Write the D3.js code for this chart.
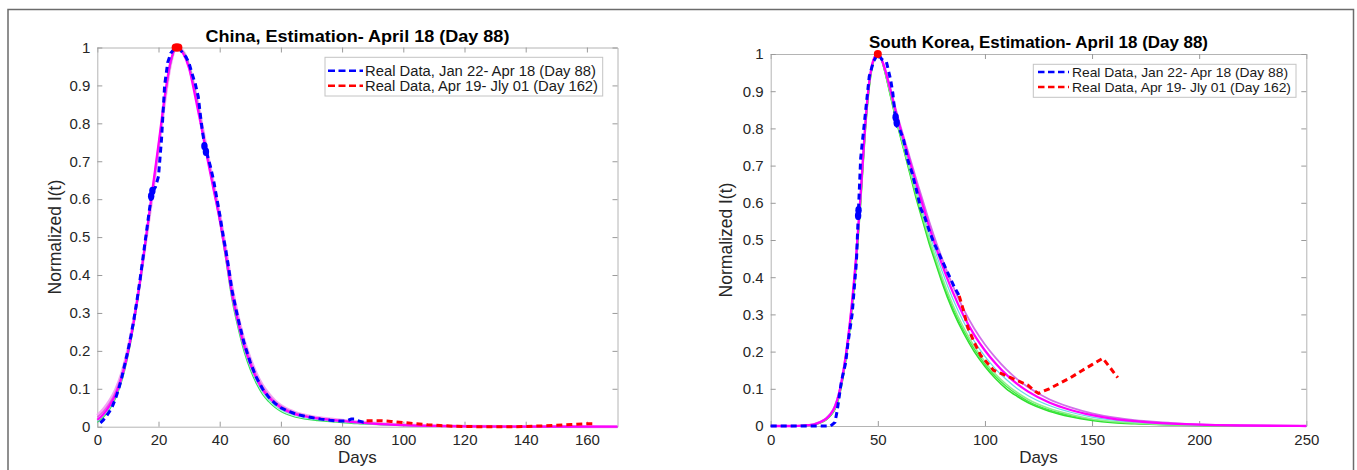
<!DOCTYPE html>
<html>
<head>
<meta charset="utf-8">
<script src="https://cdn.jsdelivr.net/npm/d3@7"></script>
<style>
  html, body { margin: 0; padding: 0; background: #fff; }
  svg { display: block; }
  text { font-family: "Liberation Sans", Arial, Helvetica, sans-serif; }
</style>
</head>
<body>
<script>
// ---------------- DATA ----------------
const yTicks = [0, 0.1, 0.2, 0.3, 0.4, 0.5, 0.6, 0.7, 0.8, 0.9, 1];
const yTickLabels = ["0", "0.1", "0.2", "0.3", "0.4", "0.5", "0.6", "0.7", "0.8", "0.9", "1"];

const chinaXTicks = [0, 20, 40, 60, 80, 100, 120, 140, 160];
const chinaXTickLabels = ["0", "20", "40", "60", "80", "100", "120", "140", "160"];
const skXTicks = [0, 50, 100, 150, 200, 250];
const skXTickLabels = ["0", "50", "100", "150", "200", "250"];

const legendLabels = ["Real Data, Jan 22- Apr 18 (Day 88)", "Real Data, Apr 19- Jly 01 (Day 162)"];
const chinaTitle = "China, Estimation- April 18 (Day 88)";
const skTitle = "South Korea, Estimation- April 18 (Day 88)";

// China model ensemble
const chinaModelDays = [0,2,4,6,8,10,12,14,16,18,20,22,24,26,28,30,32,34,36,38,40,42,44,46,48,50,52,54,56,58,60,64,68,72,76,80,85,90,100,110,120,140,160,170];
const chinaMagentaA = [0.018,0.033,0.055,0.085,0.13,0.195,0.28,0.385,0.505,0.625,0.745,0.87,0.965,1.0,0.985,0.945,0.87,0.79,0.705,0.625,0.545,0.45,0.35,0.275,0.212,0.165,0.127,0.098,0.078,0.062,0.05,0.035,0.027,0.022,0.018,0.015,0.011,0.008,0.004,0.002,0.001,0.0003,0.0001,0];
const chinaMagentaB = [0.025,0.04,0.062,0.092,0.137,0.2,0.283,0.385,0.5,0.615,0.735,0.86,0.96,1.0,0.988,0.95,0.88,0.8,0.715,0.635,0.555,0.462,0.362,0.285,0.222,0.174,0.135,0.105,0.083,0.066,0.054,0.038,0.029,0.023,0.019,0.016,0.012,0.009,0.0045,0.0022,0.0011,0.0003,0.0001,0];
const chinaPink = [0.03,0.046,0.068,0.098,0.142,0.204,0.285,0.385,0.498,0.61,0.73,0.855,0.958,1.0,0.99,0.952,0.885,0.805,0.72,0.64,0.56,0.468,0.37,0.292,0.228,0.18,0.14,0.109,0.087,0.069,0.056,0.04,0.03,0.024,0.02,0.017,0.013,0.01,0.005,0.0025,0.0012,0.0004,0.0001,0];
const chinaGreen = [0.012,0.025,0.045,0.075,0.12,0.185,0.27,0.375,0.495,0.615,0.74,0.86,0.958,1.0,0.99,0.955,0.885,0.8,0.71,0.625,0.54,0.44,0.335,0.26,0.197,0.15,0.113,0.085,0.066,0.051,0.04,0.027,0.02,0.016,0.013,0.011,0.008,0.006,0.003,0.0015,0.0007,0.0002,0.0001,0];
const chinaCyan = [0.015,0.029,0.05,0.08,0.125,0.19,0.275,0.38,0.5,0.62,0.742,0.865,0.962,1.0,0.988,0.95,0.878,0.795,0.708,0.625,0.542,0.445,0.342,0.268,0.205,0.158,0.12,0.092,0.072,0.056,0.045,0.031,0.023,0.019,0.015,0.013,0.0095,0.007,0.0035,0.0018,0.0008,0.0002,0.0001,0];

// China real data
const chinaBlueDays = [1,2,3,4,5,6,7,8,9,10,11,12,13,14,15,16,17,17.8,18,19,20,21,22,23,24,25,26,27,28,29,30,31,32,33,34,35,35.3,36,37,38,39,40,41,42,43,44,46,48,50,52,54,56,58,60,62,65,68,70,73,76,79,81,82,83,84,85,86,87,88];
const chinaBlueVals = [0.01,0.018,0.028,0.04,0.055,0.075,0.1,0.13,0.165,0.2,0.24,0.285,0.335,0.39,0.45,0.51,0.57,0.616,0.62,0.632,0.66,0.76,0.9,0.96,0.985,0.995,1.0,0.995,0.985,0.975,0.958,0.93,0.905,0.87,0.8,0.745,0.73,0.715,0.685,0.65,0.605,0.56,0.51,0.465,0.415,0.36,0.285,0.22,0.17,0.13,0.1,0.078,0.062,0.05,0.042,0.033,0.027,0.024,0.02,0.017,0.015,0.015,0.017,0.02,0.02,0.016,0.014,0.012,0.013];
const chinaRedDays = [88,92,96,100,104,108,112,116,120,125,130,135,140,145,150,155,160,162];
const chinaRedVals = [0.016,0.016,0.014,0.011,0.008,0.005,0.003,0.0015,0.0005,0,0,0,0.0005,0.002,0.004,0.006,0.008,0.008];
const chinaBlueMarkDays = [17.6, 18.0, 35.0, 35.5];
const chinaBlueMarkVals = [0.608, 0.622, 0.74, 0.725];
const chinaRedMarkDays = [25.6, 26.0, 26.5];
const chinaRedMarkVals = [1.0, 1.0, 1.0];

// South Korea model ensemble
const skModelDays = [0,10,15,20,23,26,28,30,32,34,36,38,40,42,44,46,48,50,52,54,56,58,60,62,64,66,68,70,72,74,76,78,80,85,90,95,100,105,110,115,120,130,140,150,160,170,180,190,200,220,250];
const skMagentaA = [0,0,0.001,0.004,0.01,0.02,0.032,0.052,0.09,0.15,0.23,0.335,0.465,0.625,0.8,0.925,0.985,1.0,0.982,0.945,0.9,0.853,0.81,0.77,0.73,0.69,0.65,0.612,0.573,0.535,0.5,0.466,0.434,0.36,0.297,0.245,0.203,0.168,0.138,0.113,0.093,0.063,0.043,0.029,0.019,0.013,0.0085,0.0055,0.0035,0.0013,0];
const skMagentaB = [0,0,0.001,0.005,0.011,0.022,0.034,0.055,0.093,0.153,0.233,0.337,0.465,0.623,0.797,0.923,0.984,1.0,0.983,0.948,0.905,0.86,0.818,0.779,0.74,0.701,0.662,0.625,0.587,0.55,0.515,0.482,0.45,0.377,0.314,0.262,0.219,0.183,0.152,0.126,0.105,0.072,0.05,0.034,0.023,0.016,0.011,0.007,0.0045,0.0018,0];
const skCyan = [0,0,0.001,0.004,0.01,0.02,0.031,0.05,0.088,0.147,0.227,0.332,0.462,0.622,0.798,0.924,0.985,1.0,0.981,0.942,0.895,0.846,0.8,0.758,0.716,0.675,0.634,0.595,0.556,0.518,0.483,0.449,0.416,0.342,0.28,0.228,0.187,0.153,0.125,0.101,0.082,0.055,0.037,0.024,0.016,0.011,0.007,0.0045,0.0028,0.001,0];
const skGreenA = [0,0,0.001,0.003,0.008,0.017,0.028,0.045,0.08,0.138,0.215,0.318,0.44,0.6,0.78,0.91,0.98,1.0,0.98,0.935,0.885,0.835,0.79,0.745,0.7,0.655,0.61,0.57,0.53,0.49,0.455,0.42,0.385,0.31,0.25,0.2,0.16,0.127,0.1,0.08,0.063,0.04,0.025,0.015,0.009,0.006,0.004,0.0025,0.0015,0.0005,0];
const skGreenB = [0,0,0.001,0.0035,0.009,0.018,0.03,0.048,0.084,0.142,0.22,0.323,0.45,0.61,0.788,0.916,0.982,1.0,0.98,0.938,0.89,0.84,0.795,0.752,0.708,0.665,0.622,0.582,0.543,0.504,0.469,0.434,0.4,0.326,0.265,0.214,0.173,0.139,0.112,0.09,0.072,0.047,0.031,0.019,0.012,0.008,0.005,0.003,0.002,0.0007,0];
const skGreenC = [0,0,0.001,0.0032,0.0085,0.0175,0.029,0.046,0.082,0.14,0.218,0.32,0.445,0.605,0.784,0.913,0.981,1.0,0.98,0.936,0.887,0.837,0.792,0.748,0.704,0.66,0.616,0.576,0.536,0.497,0.462,0.427,0.392,0.318,0.257,0.207,0.166,0.133,0.106,0.085,0.067,0.043,0.028,0.017,0.0105,0.007,0.0045,0.0028,0.0017,0.0006,0];

// South Korea real data
const skBlueDays = [0,5,10,15,20,25,28,29,30,31,32,33,35,36,38,39,40,40.9,42,44,46,48,50,52,54,56,57,58,58.5,59,60,62,64,66,68,70,72,74,76,78,80,82,84,86,88];
const skBlueVals = [0,0,0,0,0,0,0,0.005,0.01,0.04,0.08,0.12,0.17,0.22,0.3,0.37,0.44,0.572,0.72,0.83,0.94,0.98,1.0,0.985,0.979,0.93,0.895,0.84,0.827,0.805,0.8,0.77,0.715,0.68,0.635,0.585,0.56,0.525,0.495,0.47,0.445,0.42,0.395,0.37,0.35];
const skRedDays = [88,90,92,95,98,101,104,108,112,116,120,123,125,130,135,140,145,150,155,158,162];
const skRedVals = [0.35,0.31,0.265,0.225,0.19,0.17,0.15,0.14,0.13,0.12,0.11,0.095,0.088,0.1,0.115,0.13,0.148,0.165,0.182,0.16,0.13];
const skBlueMarkDays = [40.8, 41.0, 58.3, 58.8];
const skBlueMarkVals = [0.565, 0.58, 0.83, 0.815];
const skRedMarkDays = [50];
const skRedMarkVals = [1.0];

// ---------------- DRAW ----------------
const W = 1357, H = 470;
const svg = d3.select("body").append("svg").attr("width", W).attr("height", H);

// outer frame
svg.append("rect").attr("x", 8).attr("y", 9.5).attr("width", 1345.5).attr("height", 480)
  .attr("fill", "none").attr("stroke", "#6b6b6b").attr("stroke-width", 1.5);

function zip(xs, ys) { return xs.map((d, i) => [d, ys[i]]); }

function panel(p) {
  const x = d3.scaleLinear().domain(p.xDomain).range([p.left, p.right]);
  const y = d3.scaleLinear().domain([0, 1]).range([p.bottom, p.top]);
  const g = svg.append("g");

  const styleAxis = sel => {
    sel.selectAll(".domain").attr("stroke", "#b4b4b4").attr("stroke-width", 1);
    sel.selectAll(".tick line").attr("stroke", "#9a9a9a").attr("stroke-width", 1);
    sel.selectAll(".tick text").attr("fill", "#262626").attr("font-size", p.tickFont)
      .attr("font-family", '"Liberation Sans", Arial, Helvetica, sans-serif');
  };

  g.append("g").attr("transform", `translate(0,${p.bottom})`)
    .call(d3.axisBottom(x).tickValues(p.xTicks).tickFormat((d, i) => p.xTickLabels[i])
      .tickSizeInner(-5).tickSizeOuter(0).tickPadding(8)).call(styleAxis);
  g.append("g").attr("transform", `translate(0,${p.top})`)
    .call(d3.axisTop(x).tickValues(p.xTicks).tickFormat("")
      .tickSizeInner(-5).tickSizeOuter(0)).call(styleAxis);
  g.append("g").attr("transform", `translate(${p.left},0)`)
    .call(d3.axisLeft(y).tickValues(yTicks).tickFormat((d, i) => yTickLabels[i])
      .tickSizeInner(-5).tickSizeOuter(0).tickPadding(7)).call(styleAxis);
  g.append("g").attr("transform", `translate(${p.right},0)`)
    .call(d3.axisRight(y).tickValues(yTicks).tickFormat("")
      .tickSizeInner(-5).tickSizeOuter(0)).call(styleAxis);

  const smooth = d3.line().x(d => x(d[0])).y(d => y(d[1])).curve(d3.curveMonotoneX);
  const straight = d3.line().x(d => x(d[0])).y(d => y(d[1]));

  p.models.forEach(m => {
    g.append("path").attr("d", smooth(zip(p.modelDays, m.vals)))
      .attr("fill", "none").attr("stroke", m.color).attr("stroke-width", m.width)
      .attr("stroke-opacity", m.opacity || 1).attr("stroke-linejoin", "round");
  });

  g.append("path").attr("d", straight(zip(p.blueDays, p.blueVals)))
    .attr("fill", "none").attr("stroke", "#0000ff").attr("stroke-width", 3)
    .attr("stroke-dasharray", "6,4");
  g.append("path").attr("d", straight(zip(p.redDays, p.redVals)))
    .attr("fill", "none").attr("stroke", "#ff0000").attr("stroke-width", 3)
    .attr("stroke-dasharray", "6,4");

  g.selectAll(null).data(zip(p.blueMarkDays, p.blueMarkVals)).join("ellipse")
    .attr("cx", d => x(d[0])).attr("cy", d => y(d[1])).attr("rx", 3.2).attr("ry", 4.2)
    .attr("fill", "#0000ff");
  g.selectAll(null).data(zip(p.redMarkDays, p.redMarkVals)).join("circle")
    .attr("cx", d => x(d[0])).attr("cy", d => y(d[1])).attr("r", 4)
    .attr("fill", "#ff0000");

  // title
  g.append("text").attr("x", (p.left + p.right) / 2).attr("y", p.top - 6)
    .attr("text-anchor", "middle").attr("font-size", 16).attr("font-weight", "bold")
    .attr("fill", "#000").attr("textLength", p.titleLen).attr("lengthAdjust", "spacingAndGlyphs")
    .text(p.title);

  // axis labels
  g.append("text").attr("x", (p.left + p.right) / 2).attr("y", 463)
    .attr("text-anchor", "middle").attr("font-size", 17).attr("fill", "#262626").text("Days");
  g.append("text").attr("transform", `translate(${p.ylabelX},${(p.top + p.bottom) / 2}) rotate(-90)`)
    .attr("text-anchor", "middle").attr("font-size", 17.5).attr("fill", "#262626").text("Normalized I(t)");

  // legend
  const L = p.legend;
  g.append("rect").attr("x", L.x0).attr("y", L.y0).attr("width", L.x1 - L.x0).attr("height", L.y1 - L.y0)
    .attr("fill", "#fff").attr("stroke", "#c4c4c4").attr("stroke-width", 1);
  const legColors = ["#0000ff", "#ff0000"];
  legendLabels.forEach((lab, i) => {
    const by = L.base[i];
    g.append("line").attr("x1", L.lx0).attr("x2", L.lx1).attr("y1", by - L.font * 0.35).attr("y2", by - L.font * 0.35)
      .attr("stroke", legColors[i]).attr("stroke-width", 2.5).attr("stroke-dasharray", L.dash);
    g.append("text").attr("x", L.tx).attr("y", by).attr("font-size", L.font).attr("fill", "#1a1a1a")
      .attr("textLength", L.tlen[i]).attr("lengthAdjust", "spacingAndGlyphs").text(lab);
  });
}

panel({
  left: 97.3, right: 617.5, top: 47.5, bottom: 426.7, xDomain: [0, 170],
  xTicks: chinaXTicks, xTickLabels: chinaXTickLabels, tickFont: 15,
  title: chinaTitle, titleLen: 304, ylabelX: 61,
  modelDays: chinaModelDays,
  models: [
    { vals: chinaPink, color: "#f2a6f2", width: 3 },
    { vals: chinaGreen, color: "#33e05a", width: 1.2 },
    { vals: chinaCyan, color: "#7ae8d8", width: 1.2 },
    { vals: chinaMagentaB, color: "#e55ce5", width: 1.6 },
    { vals: chinaMagentaA, color: "#ff00ff", width: 2.2 }
  ],
  blueDays: chinaBlueDays, blueVals: chinaBlueVals,
  redDays: chinaRedDays, redVals: chinaRedVals,
  blueMarkDays: chinaBlueMarkDays, blueMarkVals: chinaBlueMarkVals,
  redMarkDays: chinaRedMarkDays, redMarkVals: chinaRedMarkVals,
  legend: { x0: 325, x1: 602.7, y0: 57.3, y1: 96, lx0: 328, lx1: 363, tx: 365,
            base: [75.7, 90.7], font: 14, tlen: [231, 233], dash: "7,3.5" }
});

panel({
  left: 770.7, right: 1306.3, top: 54, bottom: 426, xDomain: [0, 250],
  xTicks: skXTicks, xTickLabels: skXTickLabels, tickFont: 15,
  title: skTitle, titleLen: 339, ylabelX: 732,
  modelDays: skModelDays,
  models: [
    { vals: skGreenA, color: "#2ee02e", width: 1.6 },
    { vals: skGreenC, color: "#44e844", width: 1.4 },
    { vals: skGreenB, color: "#8ef08e", width: 1.6 },
    { vals: skCyan, color: "#66d9e8", width: 1.2 },
    { vals: skMagentaB, color: "#d070e8", width: 1.8 },
    { vals: skMagentaA, color: "#ff00ff", width: 2.3 }
  ],
  blueDays: skBlueDays, blueVals: skBlueVals,
  redDays: skRedDays, redVals: skRedVals,
  blueMarkDays: skBlueMarkDays, blueMarkVals: skBlueMarkVals,
  redMarkDays: skRedMarkDays, redMarkVals: skRedMarkVals,
  legend: { x0: 1033.3, x1: 1296, y0: 64.3, y1: 97.3, lx0: 1038, lx1: 1069, tx: 1072,
            base: [76.7, 91.7], font: 13.5, tlen: [216, 219], dash: "6.5,3.5" }
});
</script>
</body>
</html>
